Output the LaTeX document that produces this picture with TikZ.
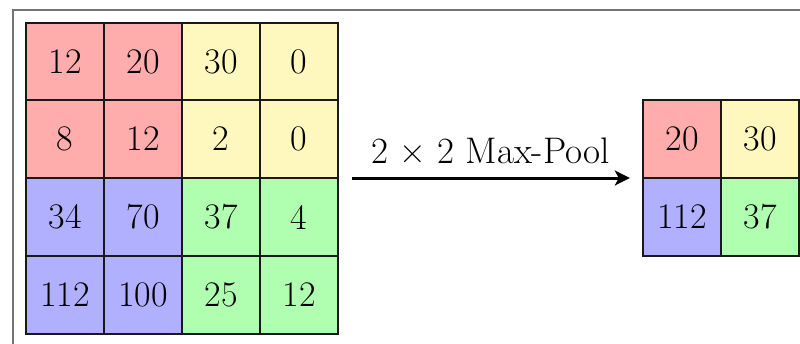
\documentclass[tikz,border=0pt]{standalone}
\usetikzlibrary{arrows.meta}
\definecolor{cred}{RGB}{255,172,172}
\definecolor{cyel}{RGB}{255,248,190}
\definecolor{cblu}{RGB}{176,176,255}
\definecolor{cgrn}{RGB}{176,255,176}
\begin{document}
\begin{tikzpicture}[x=1pt,y=-1pt,
  cell/.style={draw=black!90, line width=1.6pt, minimum size=78pt, inner sep=0pt,
    text=black, font=\fontsize{36}{36}\selectfont},
  r/.style={cell, fill=cred}, yl/.style={cell, fill=cyel},
  b/.style={cell, fill=cblu}, g/.style={cell, fill=cgrn},
  group/.style={inner sep=0pt, minimum width=#1, minimum height=#1}]
\useasboundingbox (0,0) rectangle (800,343);
\fill[white] (0,0) rectangle (800,343);
\draw[black!55, line width=2pt] (13,350) -- (13,10) -- (810,10);
% input grid
\node[r]  (a11) at (65,62)  {12};
\node[r]  (a12) at (143,62) {20};
\node[yl] (a13) at (221,62) {30};
\node[yl] (a14) at (299,62) {0};
\node[r]  (a21) at (65,139)  {8};
\node[r]  (a22) at (143,139) {12};
\node[yl] (a23) at (221,139) {2};
\node[yl] (a24) at (299,139) {0};
\node[b]  (a31) at (65,217)  {34};
\node[b]  (a32) at (143,217) {70};
\node[g]  (a33) at (221,217) {37};
\node[g]  (a34) at (299,217) {4};
\node[b]  (a41) at (65,295)  {112};
\node[b]  (a42) at (143,295) {100};
\node[g]  (a43) at (221,295) {25};
\node[g]  (a44) at (299,295) {12};
% output grid
\node[r]  (b11) at (682,139) {20};
\node[yl] (b12) at (760,139) {30};
\node[b]  (b21) at (682,217) {112};
\node[g]  (b22) at (760,217) {37};
% groups
\node[group=312pt] (A) at (182,178) {};
\node[group=156pt] (B) at (721,178) {};
\draw[line width=3pt, black, -{Stealth[length=15pt,width=15pt,inset=4pt]},
  shorten <=14pt, shorten >=13pt] (A.east) -- (B.west)
  node[midway, anchor=base, yshift=15pt, text=black,
    font=\fontsize{37}{37}\selectfont] (L) {2 × 2 Max-Pool};
\end{tikzpicture}
\end{document}
